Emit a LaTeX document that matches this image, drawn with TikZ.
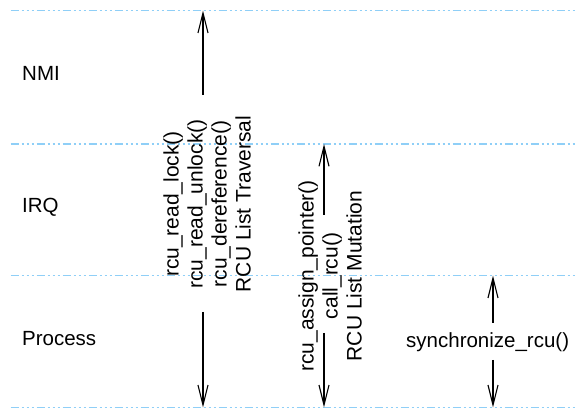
\documentclass[tikz,border=0pt]{standalone}
\usepackage{fontspec}
\setmainfont{Liberation Sans}
\usepackage{xcolor}
\usetikzlibrary{arrows.meta}
\definecolor{Band}{HTML}{8FCFF7}
\tikzset{
  band/.style={Band,line width=1.4pt,dash pattern=on 8pt off 3pt on 2pt off 3pt on 2pt off 3pt on 2pt off 3pt},
  arr/.style={-{Straight Barb[length=20pt,width=10pt,line width=1.1pt]},line width=1.1pt,black},
  lvl/.style={anchor=base west,inner sep=0pt,font=\fontsize{20.5}{24}\selectfont},
  api/.style={rotate=90,inner sep=0pt,align=center,font=\fontsize{21}{24}\selectfont}
}
\begin{document}
\begin{tikzpicture}[x=1pt,y=1pt]
  \useasboundingbox (0,0) rectangle (575,409);
  \draw[band] (10.5,398.3)--(575,398.3);
  \draw[band] (10.5,265)--(575,265);
  \draw[band] (10.5,133.3)--(575,133.3);
  \draw[band] (10.5,1.7)--(575,1.7);
  \node[lvl] (nmi) at (22,328) {NMI};
  \node[lvl] (irq) at (22,196) {IRQ};
  \node[lvl] (proc) at (22,63) {Process};
  \node[api] (trav) at (207,205) {rcu\_read\_lock()\\rcu\_read\_unlock()\\rcu\_dereference()\\RCU List Traversal};
  \node[api] (mut) at (330,133) {rcu\_assign\_pointer()\\call\_rcu()\\RCU List Mutation};
  \node[lvl] (sync) at (406,61.5) {synchronize\_rcu()};
  \coordinate (t1) at (203,314);
  \coordinate (t2) at (203,398.3);
  \coordinate (t3) at (203,97);
  \coordinate (t4) at (203,1.7);
  \coordinate (m1) at (324,194);
  \coordinate (m2) at (324,265);
  \coordinate (m3) at (324,76);
  \coordinate (m4) at (324,1.7);
  \coordinate (s1) at (493,86);
  \coordinate (s2) at (493,133.3);
  \coordinate (s3) at (493,49);
  \coordinate (s4) at (493,1.7);
  \draw[arr] (t1)--(t2);
  \draw[arr] (t3)--(t4);
  \draw[arr] (m1)--(m2);
  \draw[arr] (m3)--(m4);
  \draw[arr] (s1)--(s2);
  \draw[arr] (s3)--(s4);
\end{tikzpicture}
\end{document}
